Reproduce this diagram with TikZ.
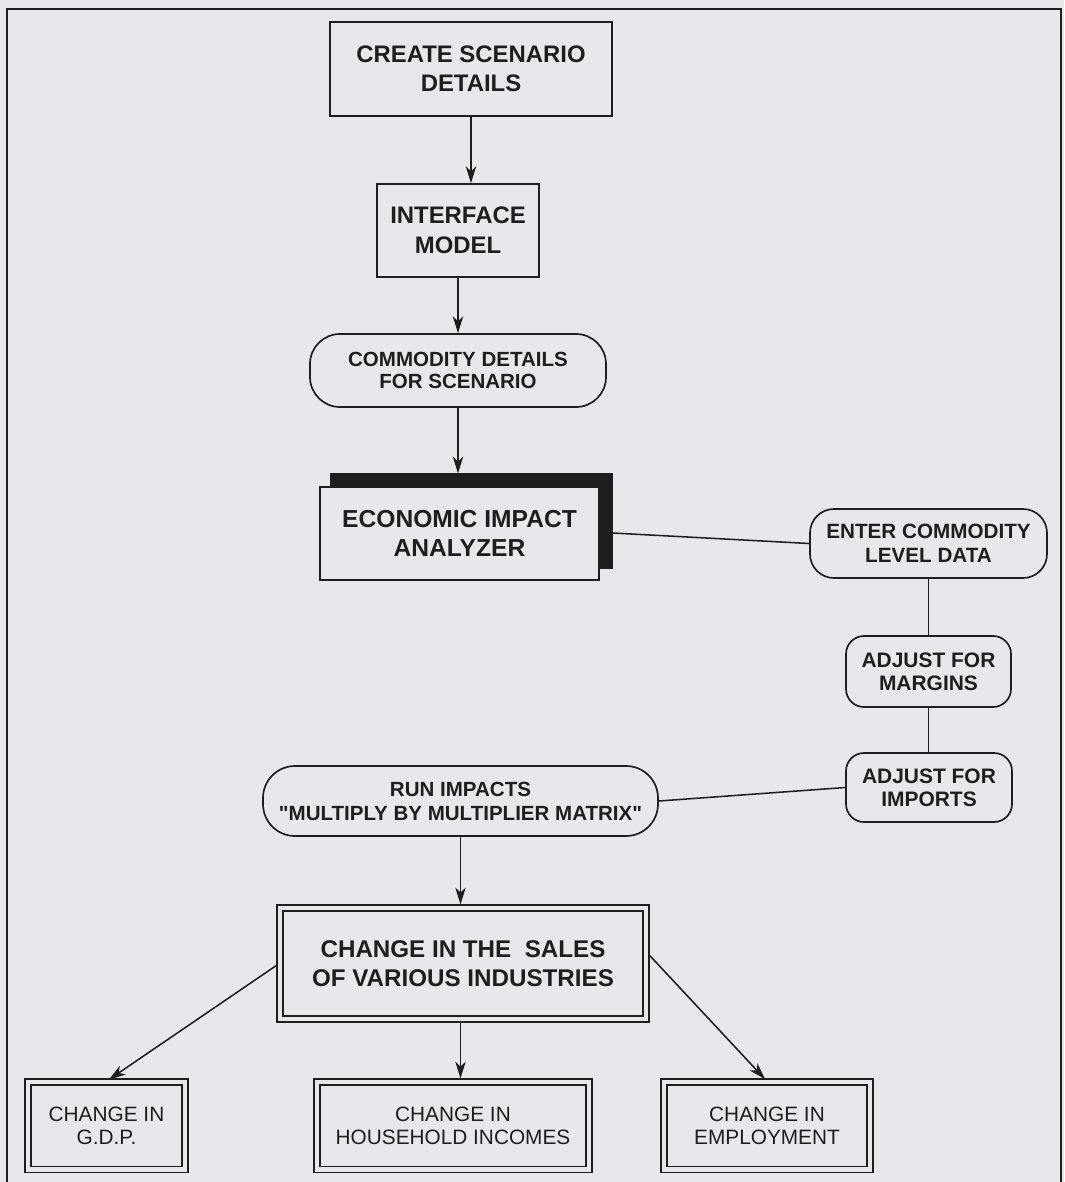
\documentclass[tikz,border=0pt]{standalone}
\usepackage{fontspec}
\setmainfont{Liberation Sans}[Ligatures=TeXOff]
\usetikzlibrary{arrows.meta,calc}
\definecolor{bg}{RGB}{233,231,236}
\definecolor{ink}{RGB}{30,30,30}
\begin{document}
\begin{tikzpicture}[
  every node/.style={text=ink},
  box/.style={draw=ink, line width=1.2pt, fill=bg, align=center, inner sep=0pt, font=\bfseries\fontsize{17}{20.5}\selectfont},
  pill/.style={box, rounded corners=#1, font=\bfseries\fontsize{14.7}{17}\selectfont},
  dbox/.style={draw=ink, line width=1.05pt, double=bg, double distance=0.105cm, fill=bg, align=center, inner sep=0pt},
  shadowbox/.style={draw=ink, fill=ink, line width=0.8pt, inner sep=0pt},
  arr/.style={draw=ink, line width=1.1pt, -{Stealth[length=0.42cm,width=0.26cm,inset=0.12cm]}},
  conn/.style={draw=ink, line width=1.1pt}
]
\useasboundingbox (0,0) rectangle (26.6,-29.55);
\fill[bg] (0,0) rectangle (26.6,-29.55);
\draw[ink, line width=1.3pt] (0.175,-30) -- (0.175,-0.225) -- (26.525,-0.225) -- (26.525,-30);

\node[box, minimum width=7.05cm, minimum height=2.35cm] (create) at (11.775,-1.725) {CREATE SCENARIO\\DETAILS};
\node[box, minimum width=4.05cm, minimum height=2.325cm, font=\bfseries\fontsize{17}{21}\selectfont] (iface) at (11.45,-5.7625) {INTERFACE\\MODEL};
\node[pill=0.75cm, minimum width=7.4cm, minimum height=1.825cm, font=\bfseries\fontsize{14.6}{16.2}\selectfont] (commod) at (11.45,-9.2625) {COMMODITY DETAILS\\FOR SCENARIO};

\node[shadowbox, minimum width=7.025cm, minimum height=2.35cm] (econshadow) at (11.7875,-13.025) {};
\node[box, minimum width=6.975cm, minimum height=2.325cm, font=\bfseries\fontsize{17.5}{21}\selectfont] (econ) at (11.4875,-13.3375) {ECONOMIC IMPACT\\ANALYZER};

\node[pill=0.6cm, minimum width=5.925cm, minimum height=1.725cm] (enter) at (23.2125,-13.5875) {ENTER COMMODITY\\LEVEL DATA};
\node[pill=0.45cm, minimum width=4.125cm, minimum height=1.775cm, font=\bfseries\fontsize{14.9}{16.6}\selectfont] (margins) at (23.2125,-16.7875) {ADJUST FOR\\MARGINS};
\node[pill=0.45cm, minimum width=4.15cm, minimum height=1.725cm, font=\bfseries\fontsize{14.9}{16.6}\selectfont] (imports) at (23.225,-19.6875) {ADJUST FOR\\IMPORTS};
\node[pill=0.8cm, minimum width=9.875cm, minimum height=1.75cm, font=\bfseries\fontsize{14.6}{17}\selectfont] (runimp) at (11.5125,-20.025) {RUN IMPACTS\\"MULTIPLY BY MULTIPLIER MATRIX"};

\node[dbox, minimum width=9.15cm, minimum height=2.775cm, font=\bfseries\fontsize{17.2}{21}\selectfont] (sales) at (11.575,-24.0875) {CHANGE IN THE\ \ SALES\\OF VARIOUS INDUSTRIES};

\node[dbox, minimum width=3.925cm, minimum height=2.1875cm, font=\fontsize{14.8}{16.6}\selectfont] (gdp) at (2.6625,-28.14375) {CHANGE IN\\G.D.P.};
\node[dbox, minimum width=6.8cm, minimum height=2.1875cm, font=\fontsize{14.8}{16.6}\selectfont] (household) at (11.325,-28.14375) {CHANGE IN\\HOUSEHOLD INCOMES};
\node[dbox, minimum width=5.15cm, minimum height=2.1875cm, font=\fontsize{14.8}{16.6}\selectfont] (emp) at (19.175,-28.14375) {CHANGE IN\\EMPLOYMENT};

\draw[arr] (create.south) -- (create.south |- iface.north);
\draw[arr] (iface.south) -- (iface.south |- commod.north);
\draw[arr] (commod.south) -- (commod.south |- econshadow.north);
\draw[conn] ([yshift=-0.3cm]econshadow.east) -- (enter.west);
\draw[conn] (enter.south) -- (enter.south |- margins.north);
\draw[conn] (margins.south) -- (margins.south |- imports.north);
\draw[conn] (imports.west) -- (runimp.east);
\draw[arr, shorten >=0.07cm] (runimp.south) -- (runimp.south |- sales.north);
\draw[arr, shorten <=0.07cm, shorten >=0.07cm] (sales.west) -- (gdp.north);
\draw[arr, shorten <=0.07cm, shorten >=0.07cm] (sales.south -| runimp.south) -- (runimp.south |- household.north);
\draw[arr, shorten <=0.07cm, shorten >=0.07cm] ([yshift=0.28cm]sales.east) -- (emp.north);
\end{tikzpicture}
\end{document}
